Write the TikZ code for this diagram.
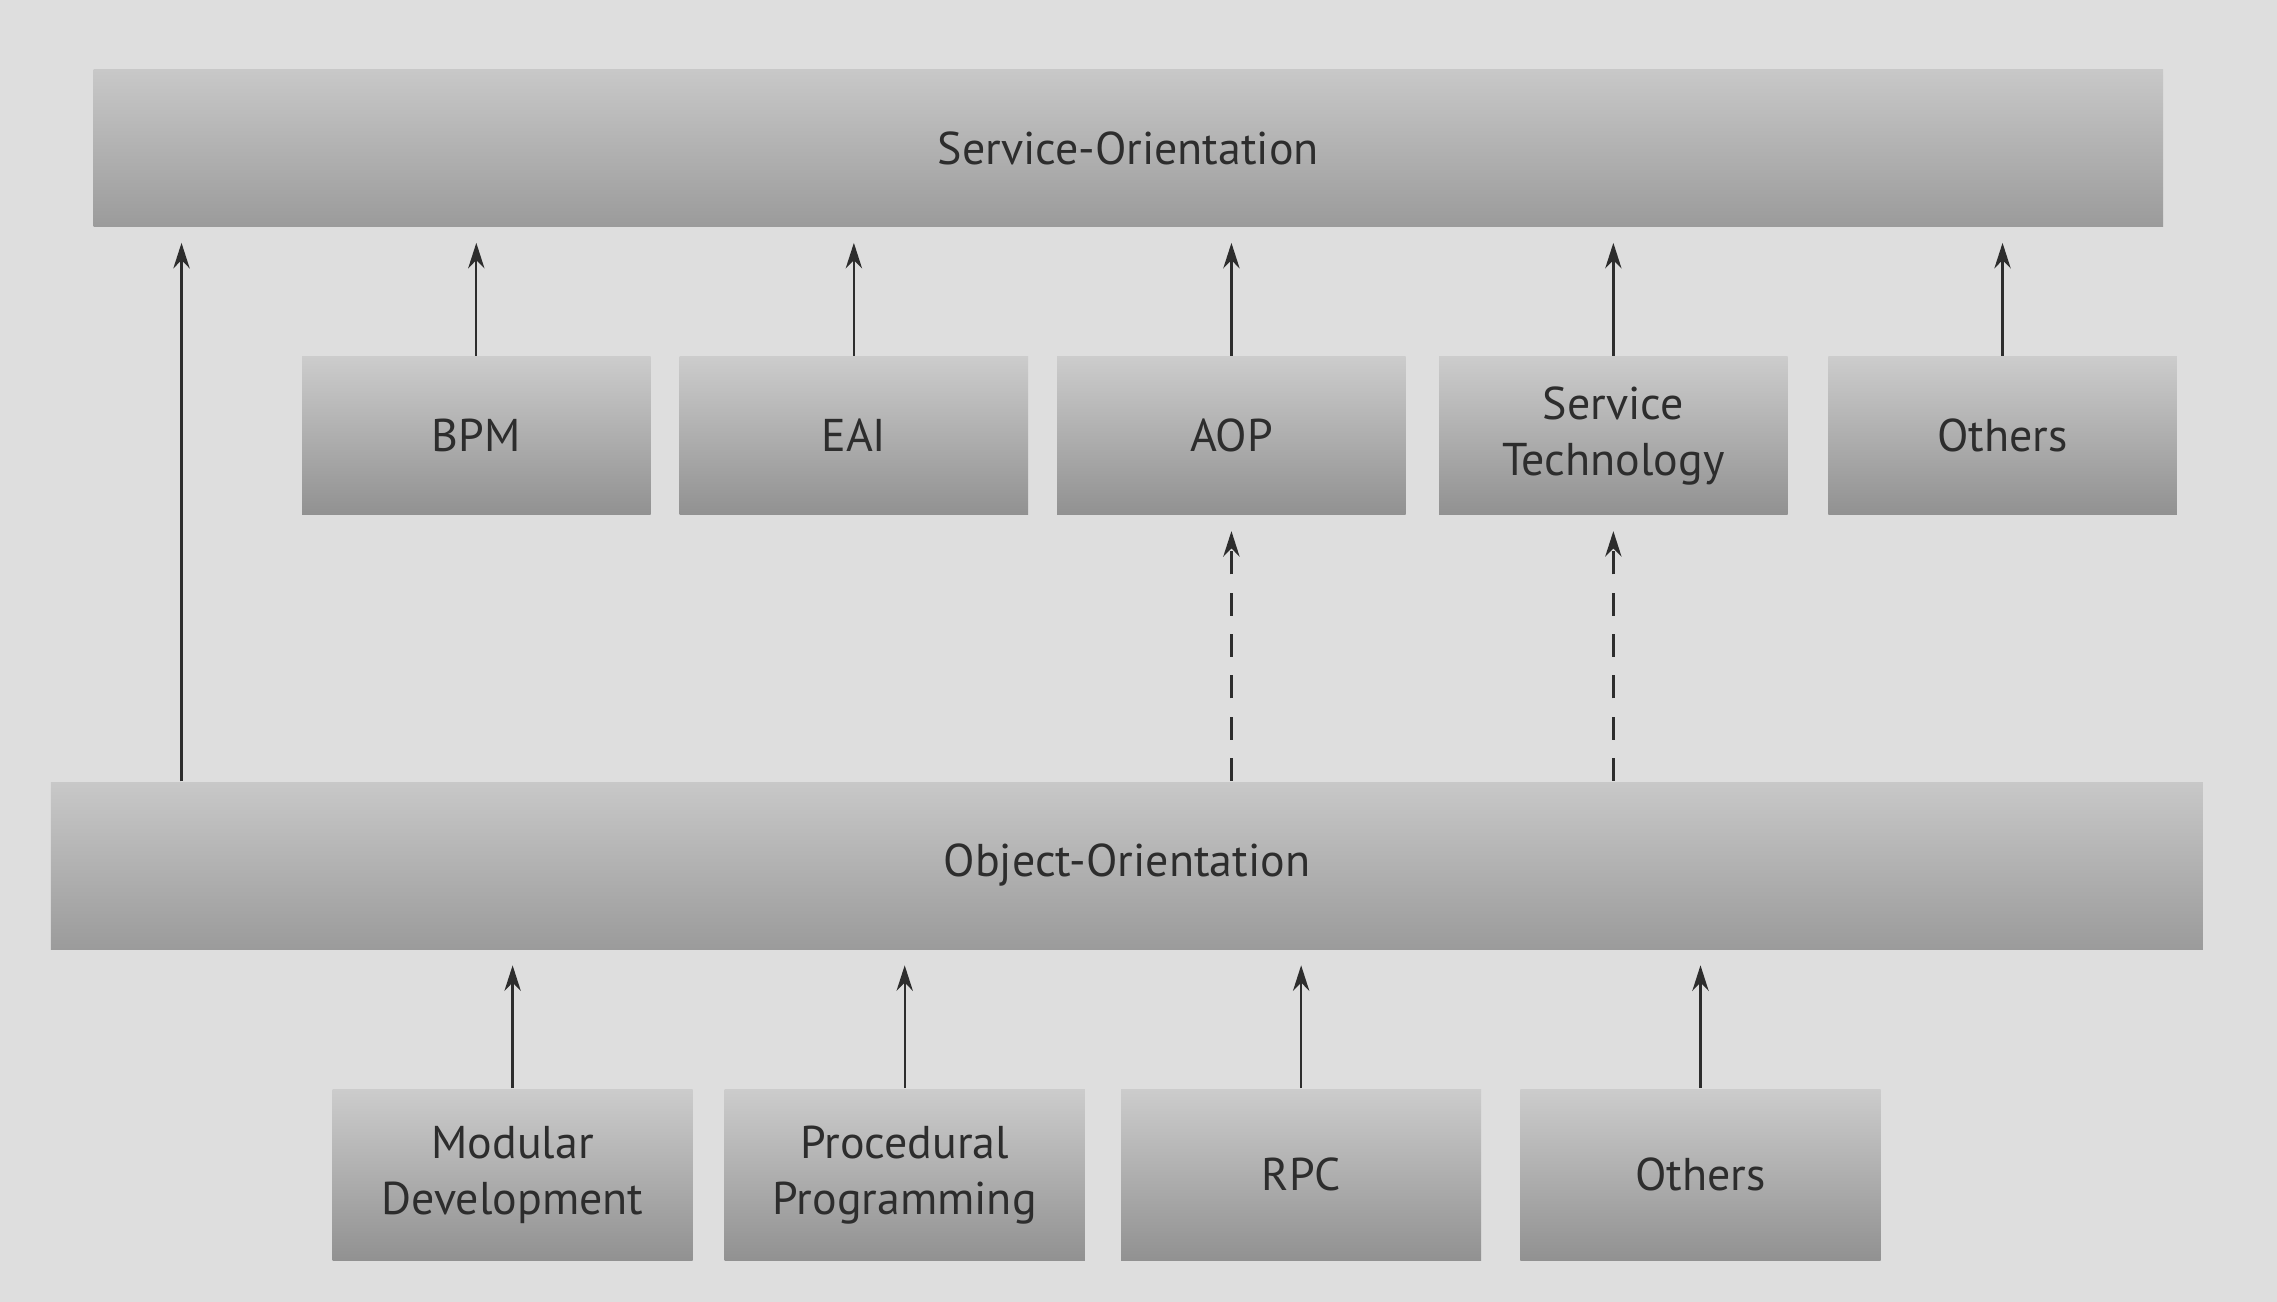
\documentclass[tikz,border=0pt]{standalone}
\usepackage{fontspec}
\setmainfont{PT Sans}
\usetikzlibrary{arrows.meta}

\definecolor{page}{RGB}{222,222,222}
\definecolor{ink}{RGB}{45,45,45}
\definecolor{boxtop}{RGB}{204,204,204}
\definecolor{boxbot}{RGB}{145,145,145}
\definecolor{bartop}{RGB}{200,200,200}
\definecolor{barbot}{RGB}{155,155,155}

\tikzset{
  box/.style={rectangle, inner sep=0pt, top color=boxtop, bottom color=boxbot,
    align=center, text=ink, font=\fontsize{9}{11}\selectfont},
  bar/.style={box, top color=bartop, bottom color=barbot},
  arr/.style={draw=ink, line width=0.45pt, -{Stealth[length=5pt,width=3.2pt]}, shorten >=3pt},
  darr/.style={arr, dash pattern=on 4.5pt off 3.6pt}
}

\begin{document}
\begin{tikzpicture}[x=0.1mm,y=-0.1mm]
  % fond
  \useasboundingbox (0,0) rectangle (1568,896);
  \fill[page] (-10,-10) rectangle (1578,906);

  % benzile mari
  \node[bar, minimum width=142.5mm, minimum height=10.8mm] (so) at (777,102) {Service-Orientation};
  \node[bar, minimum width=148.2mm, minimum height=11.5mm] (oo) at (776,596) {Object-Orientation};

  % randul din mijloc
  \foreach \name/\x/\txt in {bpm/328/BPM, eai/588/EAI, aop/848/AOP,
      st/1111/{Service\\Technology}, oth/1379/Others}
  {
    \node[box, minimum width=24mm, minimum height=10.9mm] (\name) at (\x,300) {\txt};
    \draw[arr] (\name.north) -- (\name.north |- so.south);
  }

  % randul de jos
  \foreach \name/\x/\txt in {mod/353/{Modular\\Development}, proc/623/{Procedural\\Programming},
      rpc/896/RPC, oth2/1171/Others}
  {
    \node[box, minimum width=24.8mm, minimum height=11.8mm] (\name) at (\x,809) {\txt};
    \draw[arr] (\name.north) -- (\name.north |- oo.south);
  }

  % sageata lunga si cele punctate
  \coordinate (lo) at (125,538);
  \draw[arr] (lo) -- (lo |- so.south);
  \draw[darr] (aop.south |- oo.north) -- (aop.south);
  \draw[darr] (st.south |- oo.north) -- (st.south);
\end{tikzpicture}
\end{document}
